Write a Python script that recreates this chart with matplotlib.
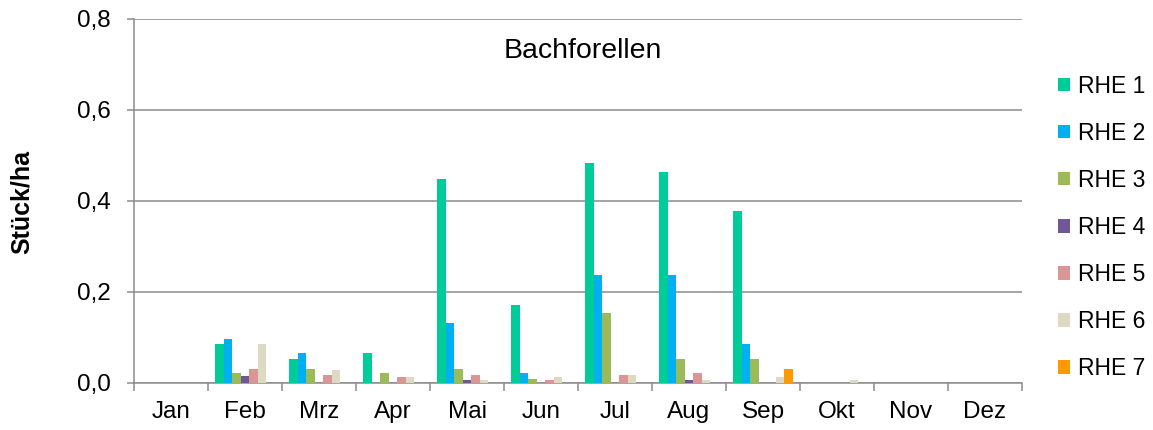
import numpy as np
import matplotlib
matplotlib.use("Agg")
import matplotlib.pyplot as plt
from matplotlib.ticker import FixedLocator, FuncFormatter

plt.rcParams['font.family'] = ['Liberation Sans', 'DejaVu Sans']

### data
months = ['Jan', 'Feb', 'Mrz', 'Apr', 'Mai', 'Jun', 'Jul', 'Aug', 'Sep', 'Okt', 'Nov', 'Dez']
series_names = ['RHE 1', 'RHE 2', 'RHE 3', 'RHE 4', 'RHE 5', 'RHE 6', 'RHE 7']
rhe1 = [0, 0.084, 0.053, 0.066, 0.447, 0.171, 0.482, 0.464, 0.377, 0, 0, 0]
rhe2 = [0, 0.097, 0.066, 0, 0.132, 0.022, 0.237, 0.237, 0.084, 0, 0, 0]
rhe3 = [0, 0.022, 0.031, 0.022, 0.031, 0.009, 0.154, 0.053, 0.053, 0, 0, 0]
rhe4 = [0, 0.014, 0, 0, 0.005, 0, 0, 0.005, 0, 0, 0, 0]
rhe5 = [0, 0.031, 0.018, 0.013, 0.018, 0.005, 0.018, 0.022, 0, 0, 0, 0]
rhe6 = [0, 0.084, 0.027, 0.013, 0.005, 0.013, 0.018, 0.005, 0.013, 0.005, 0, 0]
rhe7 = [0, 0, 0, 0, 0, 0, 0, 0, 0.031, 0, 0, 0]
colors = ['#00CC99', '#00B0F0', '#9BBB59', '#705896', '#D99694', '#DDD9C3', '#FF9900']

grid_col = '#8c8c8c'

fig = plt.figure(figsize=(11.53, 4.30), dpi=100)
ax = fig.add_axes([134/1153, 1 - 382.7/430, 888/1153, 364/430])

x = np.arange(len(months))
all_series = [rhe1, rhe2, rhe3, rhe4, rhe5, rhe6, rhe7]
n = len(all_series)
w = 0.81 / n
for i, (vals, name, c) in enumerate(zip(all_series, series_names, colors)):
    ax.bar(x - 0.405 + w * (i + 0.5), vals, width=w, color=c, label=name, linewidth=0, zorder=3)

### axes styling
ax.set_xlim(-0.5, len(months) - 0.5)
ax.set_ylim(0, 0.8)
ax.set_yticks(np.arange(0, 0.81, 0.2))
ax.yaxis.set_major_formatter(FuncFormatter(lambda v, p: f"{v:.1f}".replace('.', ',')))
ax.yaxis.grid(True, color=grid_col, linewidth=1.1, zorder=0)
ax.set_axisbelow(True)

ax.xaxis.set_major_locator(FixedLocator(np.arange(-0.5, len(months), 1.0)))
ax.xaxis.set_minor_locator(FixedLocator(x))
ax.set_xticklabels([], minor=False)
ax.set_xticklabels(months, minor=True)
ax.tick_params(axis='x', which='major', direction='out', length=5.8, width=1.1, color=grid_col)
ax.tick_params(axis='x', which='minor', length=0, pad=13, labelsize=17.5)
ax.tick_params(axis='y', direction='out', length=5, width=1.1, color=grid_col, pad=12, labelsize=17.5)

for s in ['top', 'right']:
    ax.spines[s].set_visible(False)
for s in ['left', 'bottom']:
    ax.spines[s].set_color(grid_col)
    ax.spines[s].set_linewidth(1.1)

ax.text((583 - 134) / 888, (382.7 - 58) / 364, 'Bachforellen', transform=ax.transAxes,
        ha='center', va='baseline', fontsize=20.5)

fig.text(22 / 1153, 1 - 202 / 430, 'Stück/ha', rotation=90, ha='center', va='center',
         fontsize=18, fontweight='bold')

ax.legend(loc='center left', bbox_to_anchor=(1058 / 1153, 1 - 227.5 / 430),
          bbox_transform=fig.transFigure, frameon=False, fontsize=16.5,
          handlelength=0.52, handleheight=0.52, handletextpad=0.35,
          labelspacing=1.05, borderpad=0, borderaxespad=0)

fig.savefig('out.png', dpi=100)
